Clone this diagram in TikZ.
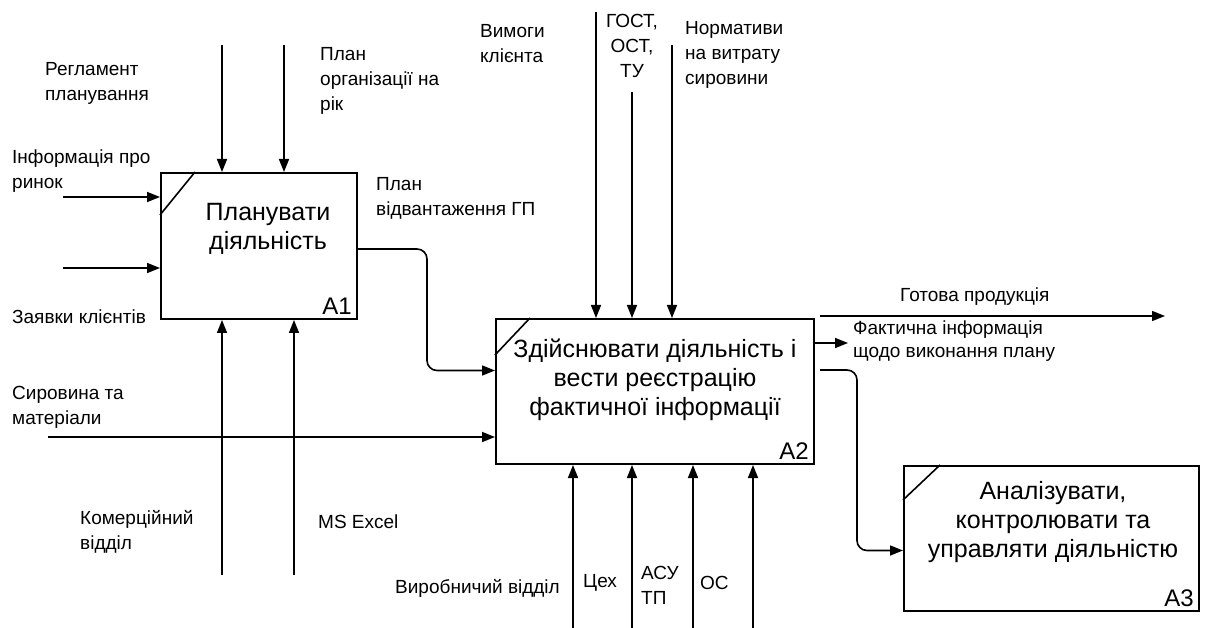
\documentclass[tikz,border=0pt]{standalone}
\usepackage{fontspec}
\setmainfont{Liberation Sans}
\usetikzlibrary{arrows.meta,calc,positioning}

\begin{document}
\begin{tikzpicture}[x=1pt,y=-1pt,>={Triangle[length=13pt,width=10pt]}]
  \tikzset{
    proc/.style={draw, line width=2pt, anchor=north west, inner sep=0pt},
    ptext/.style={font=\fontsize{25}{29}\selectfont, align=center, inner sep=0pt},
    tag/.style={font=\fontsize{24}{28}\selectfont, anchor=south east, inner sep=0pt},
    lbl/.style={font=\fontsize{19}{25}\selectfont, align=left, anchor=west, inner sep=0pt},
    arrow/.style={->, line width=1.6pt},
    corner/.style={line width=1.6pt}
  }
  \useasboundingbox (0,0) rectangle (1208,628);

  % activity boxes
  \node[proc, minimum width=196pt, minimum height=146pt] (a1) at (160,172) {};
  \node[proc, minimum width=318pt, minimum height=145pt] (a2) at (495,318) {};
  \node[proc, minimum width=295pt, minimum height=145pt] (a3) at (903,465) {};
  \draw[corner] ([yshift=-43pt]a1.north west) -- ([xshift=35pt]a1.north west);
  \draw[corner] ([yshift=-37pt]a2.north west) -- ([xshift=35pt]a2.north west);
  \draw[corner] ([yshift=-35pt]a3.north west) -- ([xshift=37pt]a3.north west);
  \node[ptext] (a1txt) at (268,229) {Планувати\\діяльність};
  \node[ptext] (a2txt) at (655,380) {Здійснювати діяльність і\\вести реєстрацію\\фактичної інформації};
  \node[ptext] (a3txt) at (1053,522) {Аналізувати,\\контролювати та\\управляти діяльністю};
  \node[tag] (a1tag) at ([xshift=-6pt,yshift=5pt]a1.south east) {A1};
  \node[tag] (a2tag) at ([xshift=-6pt,yshift=5pt]a2.south east) {A2};
  \node[tag] (a3tag) at ([xshift=-6pt,yshift=5pt]a3.south east) {A3};

  % free ends
  \coordinate (c11) at (222,45);
  \coordinate (c12) at (284,45);
  \coordinate (i11) at (63,197);
  \coordinate (i12) at (63,268);
  \coordinate (m11) at (222,575);
  \coordinate (m12) at (294,575);
  \coordinate (i21) at (48,437);
  \coordinate (c21) at (596,12);
  \coordinate (c22) at (632,92);
  \coordinate (c23) at (672,45);
  \coordinate (m21) at (573,628);
  \coordinate (m22) at (632,628);
  \coordinate (m23) at (693,628);
  \coordinate (m24) at (753,628);
  \coordinate (o21) at (1165,316);
  \coordinate (o22) at (848,343);

  % A1
  \foreach \p in {c11,c12} \draw[arrow] (\p) -- (\p |- a1.north);
  \foreach \p in {i11,i12} \draw[arrow] (\p) -- (\p -| a1.west);
  \foreach \p in {m11,m12} \draw[arrow] (\p) -- (\p |- a1.south);
  \draw[arrow, rounded corners=10pt] ([yshift=-3pt]a1.east) -- ++(69,0) |- ([yshift=21pt]a2.west);

  % A2
  \draw[arrow] (i21) -- (i21 -| a2.west);
  \foreach \p in {c21,c22,c23} \draw[arrow] (\p) -- (\p |- a2.north);
  \foreach \p in {m21,m22,m23,m24} \draw[arrow] (\p) -- (\p |- a2.south);
  \draw[arrow] ([xshift=5pt,yshift=2pt]a2.north east) -- (o21);
  \draw[arrow] (a2.north east |- o22) -- (o22);
  \draw[arrow, rounded corners=10pt] ([xshift=5pt,yshift=-52pt]a2.north east) -- ++(37,0) |- ([yshift=-12pt]a3.west);

  % labels
  \node[lbl] (reg) at (45,83) {Регламент\\планування};
  \node[lbl] (plorg) at (320,81) {План\\організації на\\рік};
  \node[lbl] (inf) at (12,171) {Інформація про\\ринок};
  \node[lbl] (zay) at (12,317) {Заявки клієнтів};
  \node[lbl] (plvid) at (376,198) {План\\відвантаження ГП};
  \node[lbl] (vym) at (480,44) {Вимоги\\клієнта};
  \node[lbl, align=center, anchor=center] (gost) at (632,46) {ГОСТ,\\ОСТ,\\ТУ};
  \node[lbl] (norm) at (685,55) {Нормативи\\на витрату\\сировини};
  \node[lbl] (got) at (900,297) {Готова продукція};
  \node[lbl, font=\fontsize{19}{23}\selectfont] (fakt) at (853,341) {Фактична інформація\\щодо виконання плану};
  \node[lbl] (syr) at (12,407) {Сировина та\\матеріали};
  \node[lbl] (kom) at (80,532) {Комерційний\\відділ};
  \node[lbl] (excel) at (318,522) {MS Excel};
  \node[lbl] (vyr) at (395,588) {Виробничий відділ};
  \node[lbl] (tsekh) at (583,583) {Цех};
  \node[lbl] (asu) at (641,585) {АСУ\\ТП};
  \node[lbl] (os) at (700,583) {ОС};
\end{tikzpicture}
\end{document}
